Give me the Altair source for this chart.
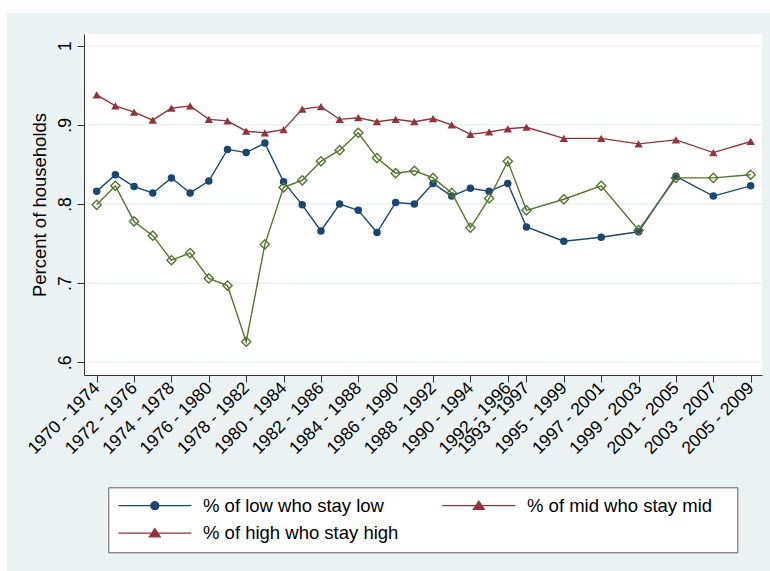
import altair as alt
import pandas as pd

# ---- data: share of households staying in their income group over each 4-year window ----
periods = [
    "1970 - 1974", "1971 - 1975", "1972 - 1976", "1973 - 1977", "1974 - 1978",
    "1975 - 1979", "1976 - 1980", "1977 - 1981", "1978 - 1982", "1979 - 1983",
    "1980 - 1984", "1981 - 1985", "1982 - 1986", "1983 - 1987", "1984 - 1988",
    "1985 - 1989", "1986 - 1990", "1987 - 1991", "1988 - 1992", "1989 - 1993",
    "1990 - 1994", "1991 - 1995", "1992 - 1996", "1993 - 1997", "1995 - 1999",
    "1997 - 2001", "1999 - 2003", "2001 - 2005", "2003 - 2007", "2005 - 2009",
]
low_stay_low = [
    0.816, 0.837, 0.822, 0.814, 0.833, 0.814, 0.829, 0.869, 0.865, 0.877,
    0.828, 0.799, 0.766, 0.800, 0.792, 0.764, 0.802, 0.800, 0.826, 0.810,
    0.820, 0.816, 0.826, 0.771, 0.753, 0.758, 0.765, 0.835, 0.810, 0.823,
]
mid_stay_mid = [
    0.938, 0.924, 0.916, 0.906, 0.921, 0.924, 0.907, 0.905, 0.892, 0.890,
    0.894, 0.920, 0.923, 0.907, 0.909, 0.904, 0.907, 0.904, 0.908, 0.900,
    0.888, 0.891, 0.895, 0.897, 0.883, 0.883, 0.876, 0.881, 0.865, 0.879,
]
high_stay_high = [
    0.799, 0.823, 0.778, 0.760, 0.729, 0.738, 0.706, 0.697, 0.626, 0.749,
    0.821, 0.830, 0.854, 0.868, 0.890, 0.858, 0.839, 0.842, 0.833, 0.814,
    0.770, 0.807, 0.854, 0.792, 0.806, 0.823, 0.767, 0.833, 0.833, 0.837,
]

tick_periods = [
    "1970 - 1974", "1972 - 1976", "1974 - 1978", "1976 - 1980", "1978 - 1982",
    "1980 - 1984", "1982 - 1986", "1984 - 1988", "1986 - 1990", "1988 - 1992",
    "1990 - 1994", "1992 - 1996", "1993 - 1997", "1995 - 1999", "1997 - 2001",
    "1999 - 2003", "2001 - 2005", "2003 - 2007", "2005 - 2009",
]
y_ticks = [0.6, 0.7, 0.8, 0.9, 1.0]
y_tick_labels = [".6", ".7", ".8", ".9", "1"]
legend_labels = ["% of low who stay low", "% of mid who stay mid", "% of high who stay high"]
legend_colors = ["#1A476F", "#90353B", "#90353B"]

# ---- styling ----
FONT = "Liberation Sans"
NAVY, MAROON, OLIVE = "#1A476F", "#90353B", "#55752F"
BG = "#EAF2F3"
W, H = 678, 341


def start_year(p):
    return int(p.split(" - ")[0])


years = [start_year(p) for p in periods]
tick_years = [start_year(p) for p in tick_periods]

frames = []
for key, vals in (("low", low_stay_low), ("mid", mid_stay_mid), ("high", high_stay_high)):
    frames.append(pd.DataFrame({"period": periods, "year": years, "value": vals, "series": key}))
df = pd.concat(frames, ignore_index=True)

x_label_expr = "{}[indexof({}, datum.value)]".format(
    "[" + ",".join("'%s'" % p for p in tick_periods) + "]",
    "[" + ",".join(str(y) for y in tick_years) + "]",
)
y_label_expr = "{}[indexof({}, datum.value)]".format(
    "[" + ",".join("'%s'" % s for s in y_tick_labels) + "]",
    "[" + ",".join(repr(v) for v in y_ticks) + "]",
)

x_scale = alt.Scale(domain=[1969.32, 2005.605], nice=False, zero=False)
y_scale = alt.Scale(domain=[0.584, 1.0148], nice=False, zero=False)

x_axis = alt.Axis(
    values=tick_years, labelExpr=x_label_expr, labelAngle=315, labelAlign="right",
    labelBaseline="middle", labelPadding=3, labelFont=FONT, labelFontSize=17.5,
    labelColor="black", labelOverlap=False, labelFlush=False, tickSize=7,
    tickColor="#333333", domainColor="#333333", grid=False, title=None, zindex=1,
)
y_axis = alt.Axis(
    values=y_ticks, labelExpr=y_label_expr, labelAngle=270, labelAlign="center",
    labelBaseline="alphabetic", labelPadding=7, labelFont=FONT, labelFontSize=17.5,
    labelColor="black", labelOverlap=False, labelFlush=False, tickSize=7,
    tickColor="#333333", domainColor="#333333", grid=False, zindex=1,
    title="Percent of households", titleFont=FONT, titleFontSize=18.5,
    titleFontWeight="normal", titleColor="black", titleAngle=270,
    titleAlign="center", titleBaseline="alphabetic", titleX=-39, titleY=H / 2,
)

X = alt.X("year:Q", scale=x_scale, axis=x_axis)
Y = alt.Y("value:Q", scale=y_scale, axis=y_axis)

one = pd.DataFrame({"k": [0]})

# outer graph region and white plot region
graph_region = alt.Chart(one).mark_rect(color=BG).encode(
    x=alt.value(-77), x2=alt.value(W + 8), y=alt.value(-21), y2=alt.value(H + 196)
)
plot_region = alt.Chart(one).mark_rect(color="white").encode(
    x=alt.value(0), x2=alt.value(W), y=alt.value(0), y2=alt.value(H)
)
gridlines = alt.Chart(pd.DataFrame({"value": y_ticks})).mark_rule(
    color=BG, strokeWidth=1.5
).encode(y=Y)


def series_layers(key, color, shape, size, filled):
    base = alt.Chart(df).transform_filter(alt.datum.series == key)
    line = base.mark_line(color=color, strokeWidth=1.4).encode(x=X, y=Y)
    pts = base.mark_point(
        color=color, shape=shape, size=size, filled=filled, opacity=1, strokeWidth=1.4
    ).encode(x=X, y=Y)
    return [line, pts]


# legend entries: line sample with the marker in its middle
circle_path = "M-1,0L1,0M0.11,0A0.11,0.11,0,1,1,-0.11,0A0.11,0.11,0,1,1,0.11,0Z"
tri_path = "M-1,0L1,0M0,-0.123L0.15,0.104L-0.15,0.104Z"
legend_paths = [circle_path, tri_path, tri_path]

# the legend grid fills column by column: low, high in the first column, mid in the second
order = [0, 2, 1]
leg_domain = [legend_labels[i] for i in order]
leg_colors = [legend_colors[i] for i in order]
leg_paths = [legend_paths[i] for i in order]

# pad the right-hand column so the legend box keeps its wider right margin
pad = "\u00a0" * 3 + "\u200b"
legend = alt.Legend(
    title=None, orient="none", legendX=24.3, legendY=453.3, columns=2,
    columnPadding=42, rowPadding=8.5, padding=9, clipHeight=18.5,
    symbolSize=5329, symbolStrokeWidth=1.3, symbolOpacity=1, labelOffset=10.7,
    labelFont=FONT, labelFontSize=18.5, labelColor="black", labelLimit=500,
    fillColor="white", strokeColor="#606060", zindex=1,
    labelExpr="datum.value == '%s' ? datum.label + '%s' : datum.label" % (legend_labels[1], pad),
)
legend_df = pd.DataFrame({"year": [1980] * 3, "value": [5.0] * 3, "series": leg_domain})
legend_layer = alt.Chart(legend_df).mark_point(
    filled=True, clip=True, opacity=1, strokeWidth=1.3
).encode(
    x=X, y=Y,
    color=alt.Color("series:N", sort=None,
                    scale=alt.Scale(domain=leg_domain, range=leg_colors), legend=legend),
    stroke=alt.Stroke("series:N", sort=None,
                      scale=alt.Scale(domain=leg_domain, range=leg_colors), legend=legend),
    shape=alt.Shape("series:N", sort=None,
                    scale=alt.Scale(domain=leg_domain, range=leg_paths), legend=legend),
)

layers = [graph_region, plot_region, gridlines]
layers += series_layers("low", NAVY, "circle", 56, True)
layers += series_layers("mid", MAROON, "triangle-up", 70, True)
layers += series_layers("high", OLIVE, "diamond", 85, False)
layers.append(legend_layer)

chart = alt.layer(*layers).properties(
    width=W, height=H,
    padding={"left": 84, "top": 34, "right": 8, "bottom": 196},
    autosize=alt.AutoSizeParams(type="none"),
    background="white",
).configure_view(stroke=None)

chart.save("out.html", embed_options={"renderer": "svg", "actions": False})
